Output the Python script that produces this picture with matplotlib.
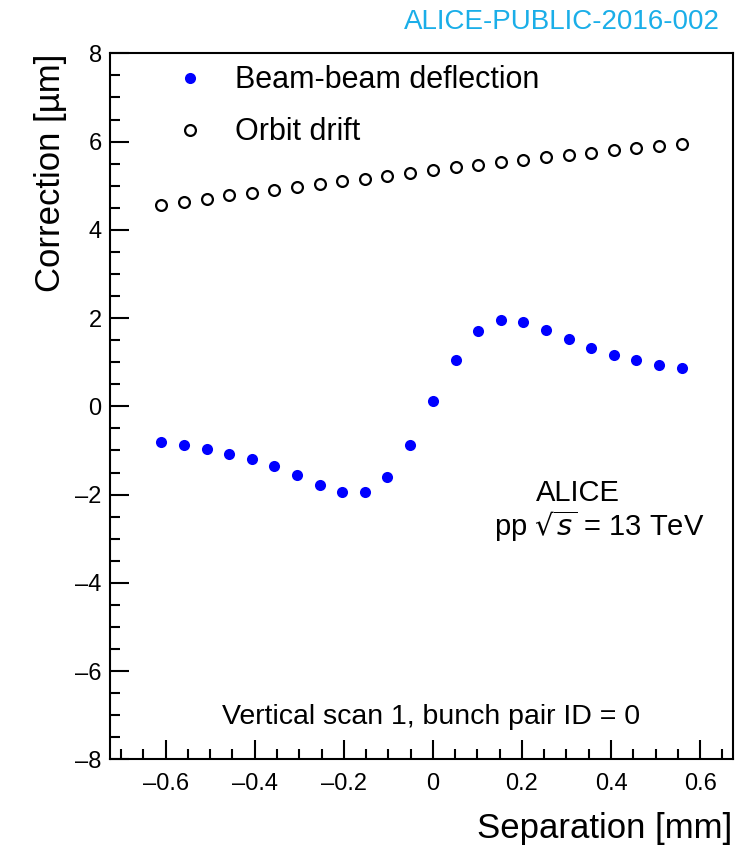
import matplotlib.pyplot as plt
from matplotlib.ticker import MultipleLocator

plt.rcParams['font.family'] = ['Liberation Sans', 'DejaVu Sans']

# separation [mm]
separation = [-0.610, -0.559, -0.508, -0.457, -0.406, -0.356, -0.305, -0.254,
              -0.203, -0.152, -0.102, -0.051, 0.000, 0.051, 0.102, 0.152,
              0.203, 0.254, 0.305, 0.356, 0.406, 0.457, 0.508, 0.559]

# corrections [um]
beam_beam = [-0.81, -0.88, -0.97, -1.08, -1.20, -1.35, -1.56, -1.79,
             -1.94, -1.94, -1.60, -0.88, 0.12, 1.05, 1.71, 1.96,
             1.91, 1.73, 1.53, 1.33, 1.16, 1.06, 0.94, 0.86]
orbit_drift = [4.56, 4.63, 4.70, 4.78, 4.83, 4.90, 4.98, 5.04,
               5.10, 5.16, 5.22, 5.29, 5.36, 5.42, 5.46, 5.53,
               5.58, 5.65, 5.70, 5.75, 5.80, 5.85, 5.91, 5.95]

fig = plt.figure(figsize=(7.43, 8.47), dpi=100)
ax = fig.add_axes([0.148, 0.1035, 0.838, 0.8335])

ax.plot(separation, beam_beam, 'o', color='#0000ff', markersize=8,
        markeredgewidth=0, label='Beam-beam deflection')
ax.plot(separation, orbit_drift, 'o', markerfacecolor='none',
        markeredgecolor='black', markersize=7.8, markeredgewidth=1.6,
        label='Orbit drift')

ax.set_xlim(-0.725, 0.673)
ax.set_ylim(-8, 8)

ax.xaxis.set_major_locator(MultipleLocator(0.2))
ax.xaxis.set_minor_locator(MultipleLocator(0.05))
ax.yaxis.set_major_locator(MultipleLocator(2))
ax.yaxis.set_minor_locator(MultipleLocator(0.5))
ax.xaxis.set_major_formatter(plt.FuncFormatter(
    lambda v, p: '0' if abs(v) < 1e-9 else ('\u2013%g' % abs(v) if v < 0 else '%g' % v)))
ax.yaxis.set_major_formatter(plt.FuncFormatter(
    lambda v, p: '\u2013%g' % abs(v) if v < 0 else '%g' % v))

ax.tick_params(which='both', direction='in', top=False, right=False,
               labelsize=17, width=1.5)
ax.tick_params(which='major', length=14)
ax.tick_params(which='minor', length=7)
ax.tick_params(axis='x', pad=10)
ax.tick_params(axis='y', pad=6)
for s in ax.spines.values():
    s.set_linewidth(1.5)

ax.set_xlabel('Separation [mm]', fontsize=25, loc='right', labelpad=12)
ax.set_ylabel('Correction [\u00b5m]', fontsize=25, loc='top', labelpad=6)

ax.legend(loc='upper left', bbox_to_anchor=(0.036, 1.022), frameon=False,
          fontsize=22, handletextpad=0.45, labelspacing=0.72, markerscale=1.0)

ax.text(0.751, 0.377, 'ALICE', transform=ax.transAxes, fontsize=21,
        ha='center', va='center')
ax.text(0.786, 0.33, r'pp $\sqrt{s}$ = 13 TeV', transform=ax.transAxes,
        fontsize=21, ha='center', va='center')
ax.text(0.516, 0.06, 'Vertical scan 1, bunch pair ID = 0',
        transform=ax.transAxes, fontsize=20.5, ha='center', va='center')

fig.text(720 / 743, 1 - 22 / 847, 'ALICE-PUBLIC-2016-002', color='#1aaee8',
         fontsize=20, ha='right', va='center')

fig.savefig('out.png', dpi=100)
